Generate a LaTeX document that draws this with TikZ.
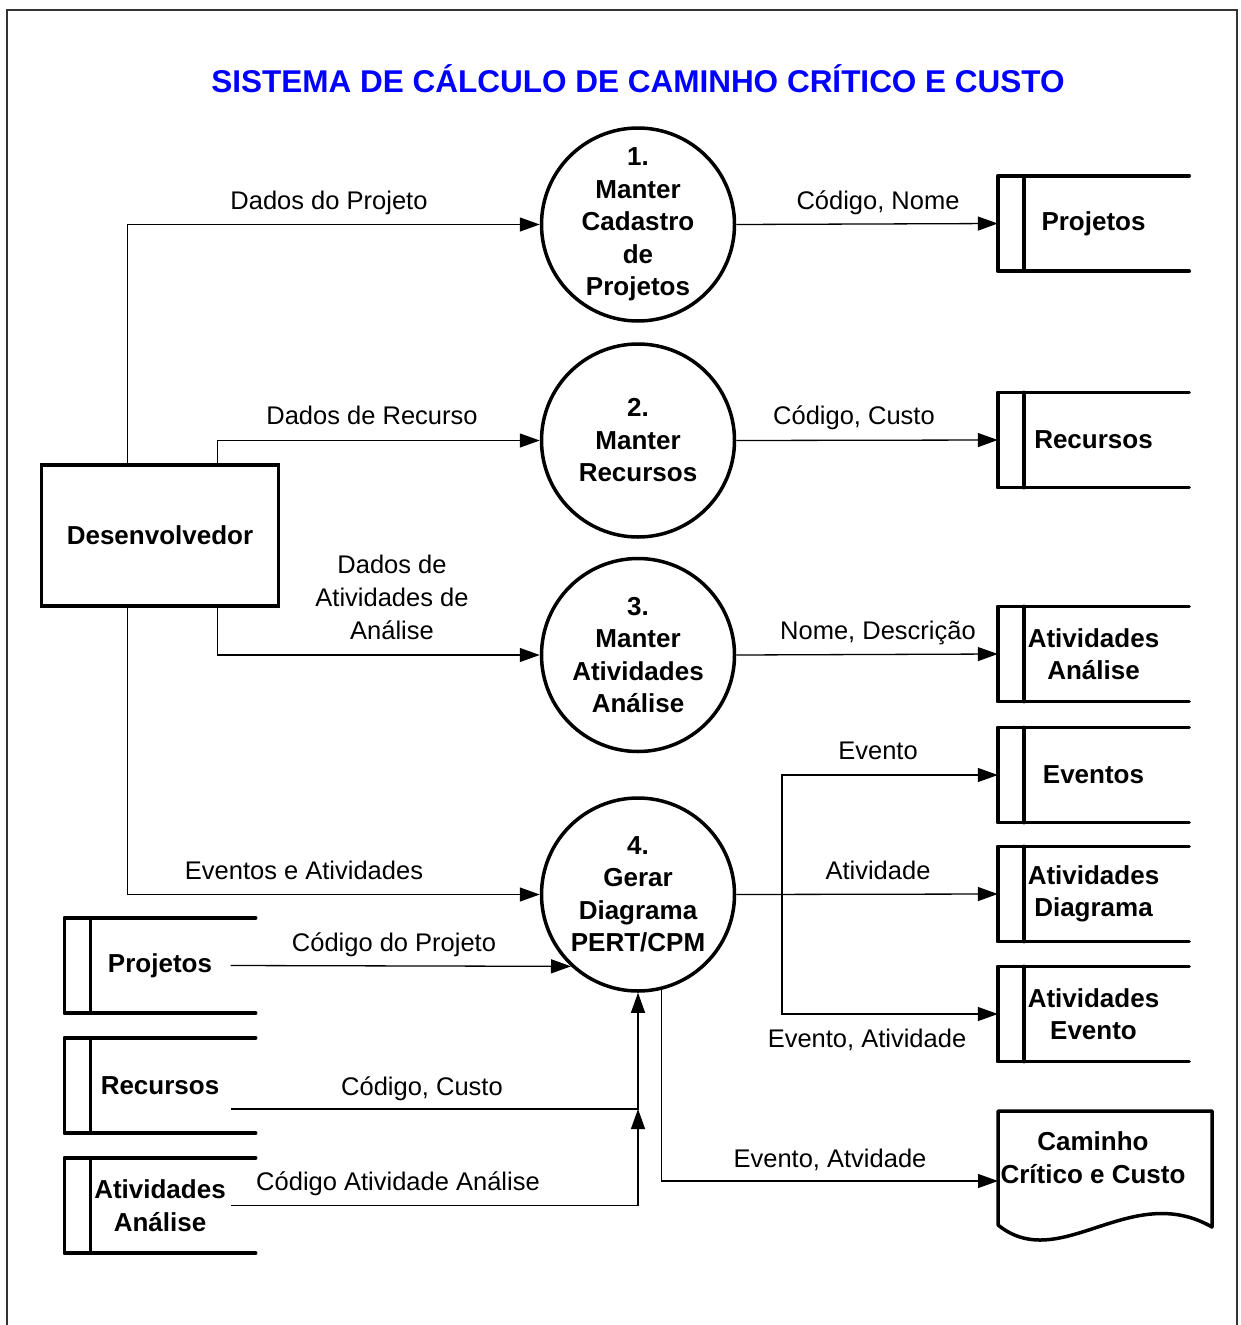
\documentclass[tikz,border=0pt]{standalone}
\usepackage{fontspec}
\setmainfont{Liberation Sans}
\usetikzlibrary{arrows.meta}
\begin{document}
\begin{tikzpicture}[x=1pt,y=-1pt,
  lbl/.style={font=\fontsize{25.5}{33}\selectfont, inner sep=0pt, text height=18.3pt, text depth=0pt},
  mlbl/.style={font=\fontsize{25.5}{33}\selectfont, inner sep=0pt, align=center},
  proc/.style={circle, draw, line width=3.5pt, minimum size=193pt, inner sep=0pt, align=center, font=\bfseries\fontsize{26}{32.5}\selectfont},
  ext/.style={rectangle, draw, line width=3.5pt, minimum width=237pt, minimum height=141pt, inner sep=0pt, font=\bfseries\fontsize{26}{32.5}\selectfont},
  store/.style={rectangle, minimum width=191pt, minimum height=95pt, inner sep=0pt, align=center, font=\bfseries\fontsize{26}{32.5}\selectfont},
  storeline/.style={line width=3.5pt, line cap=round, line join=round},
  flow/.style={line width=1.3pt, -{Triangle[length=20pt,width=14pt]}},
  conn/.style={line width=1.3pt},
  border/.style={line width=2pt, draw=black!80}
]
\useasboundingbox (0,0) rectangle (1240,1325);
\draw[border] (7,1340) -- (7,10) -- (1237,10) -- (1237,1340);

% title
\node[font=\bfseries\fontsize{31.5}{36}\selectfont, text=blue, inner sep=0pt] (title) at (638,79) {SISTEMA DE CÁLCULO DE CAMINHO CRÍTICO E CUSTO};

% processes
\node[proc] (p1) at (638,224.5) {1.\\Manter\\Cadastro\\de\\Projetos};
\node[proc] (p2) at (638,440.5) {2.\\Manter\\Recursos};
\node[proc] (p3) at (638,655) {3.\\Manter\\Atividades\\Análise};
\node[proc] (p4) at (638,894.5) {4.\\Gerar\\Diagrama\\PERT/CPM};

% external entity
\node[ext] (dev) at (160,535.5) {Desenvolvedor};

% data stores (right)
\node[store] (r1) at (1093.5,223.5) {Projetos};
\node[store] (r2) at (1093.5,440) {Recursos};
\node[store] (r3) at (1093.5,654) {Atividades\\Análise};
\node[store] (r4) at (1093.5,775) {Eventos};
\node[store] (r5) at (1093.5,894) {Atividades\\Diagrama};
\node[store] (r6) at (1093.5,1014) {Atividades\\Evento};
% data stores (left)
\node[store] (s1) at (160,965.5) {Projetos};
\node[store] (s2) at (160,1085.5) {Recursos};
\node[store] (s3) at (160,1205.5) {Atividades\\Análise};

\foreach \n in {r1,r2,r3,r4,r5,r6,s1,s2,s3}
  \draw[storeline] (\n.north east) -- (\n.north west) -- (\n.south west) -- (\n.south east)
    ([xshift=26pt]\n.north west) -- ([xshift=26pt]\n.south west);

% document
\node[inner sep=0pt, minimum width=214pt, minimum height=95pt, align=center, font=\bfseries\fontsize{26}{33}\selectfont] (doc) at (1093,1157.5) {Caminho\\Crítico e Custo};
\draw[storeline] (998,1225) -- (998,1111) -- (1212,1111) -- (1212,1227)
  .. controls (1130,1180) and (1060,1275) .. (998,1225);

% flows from Desenvolvedor
\draw[flow] ([xshift=88pt]dev.north west) |- (p1.west);
\draw[flow] ([xshift=178pt]dev.north west) |- (p2.west);
\draw[flow] ([xshift=178pt]dev.south west) |- (p3.west);
\draw[flow] ([xshift=88pt]dev.south west) |- (p4.west);

% flows to stores
\draw[flow] (p1.east) -- (r1.west);
\draw[flow] (p2.east) -- (r2.west);
\draw[flow] (p3.east) -- (r3.west);
\draw[flow] (p4.east) -- (r5.west);
\coordinate (bx) at (782,894.5);
\draw[flow] (bx) |- (r4.west);
\draw[flow] (bx) |- (r6.west);

% flows into process 4
\draw[flow] ([xshift=-25pt]s1.east) -- (p4.227.8);
\draw[flow] ([xshift=-25pt,yshift=-23.5pt]s2.east) -| (p4.south);
\coordinate (jn) at (638,1109);
\draw[flow] ([xshift=-25pt]s3.east) -| (jn);

% flow to document
\draw[flow] (p4.284.4) |- (998,1181);

% labels
\node[lbl] (l1) at (329,200) {Dados do Projeto};
\node[lbl] (l2) at (878,200) {Código, Nome};
\node[lbl] (l3) at (372,415) {Dados de Recurso};
\node[lbl] (l4) at (854,415) {Código, Custo};
\node[mlbl] (l5) at (392,597) {Dados de\\Atividades de\\Análise};
\node[lbl] (l6) at (878,630) {Nome, Descrição};
\node[lbl] (l7) at (878,750) {Evento};
\node[lbl] (l8) at (304,870) {Eventos e Atividades};
\node[lbl] (l9) at (878,870) {Atividade};
\node[lbl] (l10) at (394,942) {Código do Projeto};
\node[lbl] (l11) at (867,1038) {Evento, Atividade};
\node[lbl] (l12) at (422,1086) {Código, Custo};
\node[lbl] (l13) at (398,1181) {Código Atividade Análise};
\node[lbl] (l14) at (830,1158) {Evento, Atvidade};
\end{tikzpicture}
\end{document}
